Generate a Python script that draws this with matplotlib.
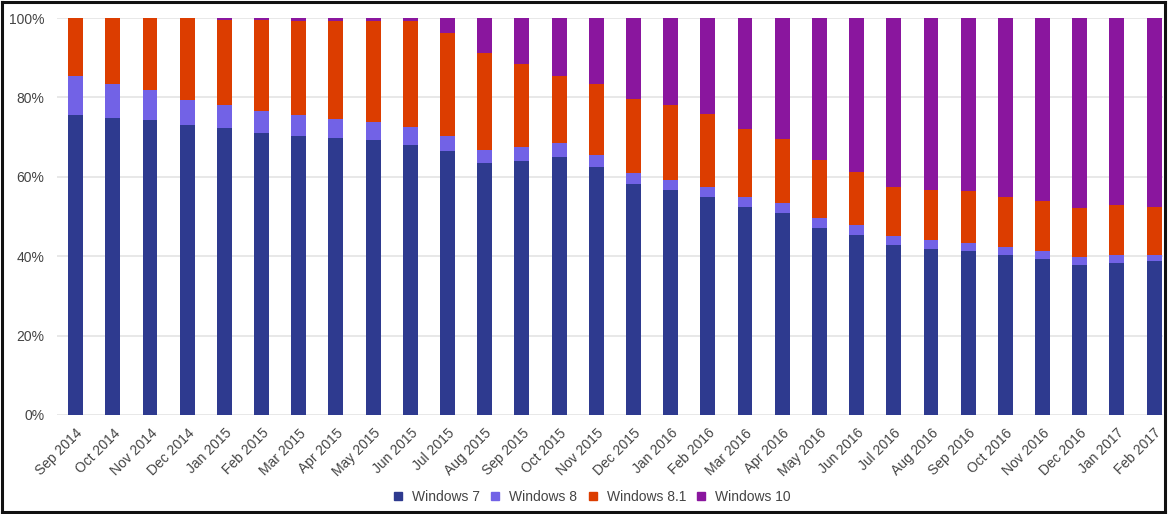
import matplotlib
matplotlib.use("Agg")
import matplotlib.pyplot as plt
from matplotlib.lines import Line2D
import numpy as np

months = ["Sep 2014", "Oct 2014", "Nov 2014", "Dec 2014",
          "Jan 2015", "Feb 2015", "Mar 2015", "Apr 2015", "May 2015", "Jun 2015",
          "Jul 2015", "Aug 2015", "Sep 2015", "Oct 2015", "Nov 2015", "Dec 2015",
          "Jan 2016", "Feb 2016", "Mar 2016", "Apr 2016", "May 2016", "Jun 2016",
          "Jul 2016", "Aug 2016", "Sep 2016", "Oct 2016", "Nov 2016", "Dec 2016",
          "Jan 2017", "Feb 2017"]

win7 = [75.6, 74.8, 74.2, 73.0, 72.2, 71.0, 70.4, 69.8, 69.2, 68.1,
        66.6, 63.4, 63.9, 65.1, 62.5, 58.1, 56.6, 54.9, 52.5, 50.8,
        47.2, 45.4, 42.8, 41.7, 41.4, 40.3, 39.3, 37.9, 38.4, 38.7]
win8 = [9.9, 8.7, 7.6, 6.4, 5.8, 5.5, 5.2, 4.7, 4.6, 4.5,
        3.7, 3.4, 3.6, 3.4, 3.1, 2.8, 2.6, 2.5, 2.5, 2.6,
        2.5, 2.4, 2.3, 2.3, 2.0, 2.0, 2.0, 2.0, 1.9, 1.7]
win81 = [14.5, 16.5, 18.2, 20.6, 21.6, 23.0, 23.7, 24.7, 25.4, 26.7,
         25.8, 24.5, 20.9, 17.0, 17.9, 18.8, 18.8, 18.4, 17.0, 16.1,
         14.5, 13.5, 12.3, 12.6, 12.9, 12.7, 12.6, 12.3, 12.5, 12.1]
win10 = [0.0, 0.0, 0.0, 0.0, 0.4, 0.5, 0.7, 0.8, 0.8, 0.7,
         3.9, 8.7, 11.6, 14.5, 16.5, 20.3, 22.0, 24.2, 28.0, 30.5,
         35.8, 38.7, 42.6, 43.4, 43.7, 45.0, 46.1, 47.8, 47.2, 47.5]

series = [("Windows 7", win7, "#2e3a8f"),
          ("Windows 8", win8, "#7262e6"),
          ("Windows 8.1", win81, "#dc3d00"),
          ("Windows 10", win10, "#8a169e")]

plt.rcParams['font.family'] = ['Liberation Sans', 'DejaVu Sans']
W, H = 1170, 514
fig = plt.figure(figsize=(W / 100, H / 100), dpi=100)
fig.patch.set_facecolor("white")

ax_left, ax_right, ax_bottom, ax_top = 57, 1163, 415, 18
ax = fig.add_axes([ax_left / W, 1 - ax_bottom / H,
                   (ax_right - ax_left) / W, (ax_bottom - ax_top) / H])

x = np.arange(len(months))
bottom = np.zeros(len(months))
for name, vals, color in series:
    v = np.array(vals)
    ax.bar(x, v, bottom=bottom, width=0.40, color=color, label=name, zorder=3)
    bottom += v

spacing = 37.19
ax.set_xlim(-0.5, -0.5 + (ax_right - ax_left) / spacing)
ax.set_ylim(0, 100)
ax.set_yticks([0, 20, 40, 60, 80, 100])
ax.set_yticklabels(["0%", "20%", "40%", "60%", "80%", "100%"])
ax.grid(axis="y", color="#e4e4e4", linewidth=1.2, zorder=0)
for s in ax.spines.values():
    s.set_visible(False)
ax.tick_params(axis="both", length=0, labelsize=10, colors="#444444")
ax.tick_params(axis="y", pad=9)
ax.set_xticks(x)
ax.set_xticklabels(months, rotation=45, ha="right", rotation_mode="anchor")
ax.tick_params(axis="x", pad=8)

handles = [Line2D([0], [0], marker="s", linestyle="none", markersize=6,
                  markerfacecolor=c, markeredgecolor=c) for _, _, c in series]
fig.legend(handles, [n for n, _, _ in series], loc="center",
           bbox_to_anchor=(591 / W, 1 - 497 / H), ncol=4, frameon=False,
           fontsize=10, handletextpad=0.5, columnspacing=0.6,
           handlelength=1.0, labelcolor="#444444")

# screenshot frame
for (x0, y0, x1, y1) in [(1.5, 1.5, 1165, 1.5), (1.5, 511.5, 1165, 511.5),
                         (1.5, 1.5, 1.5, 511.5), (1165, 1.5, 1165, 511.5)]:
    fig.add_artist(Line2D([x0 / W, x1 / W], [1 - y0 / H, 1 - y1 / H],
                          color="#111111", linewidth=2.2))

fig.savefig("out.png", dpi=100)
